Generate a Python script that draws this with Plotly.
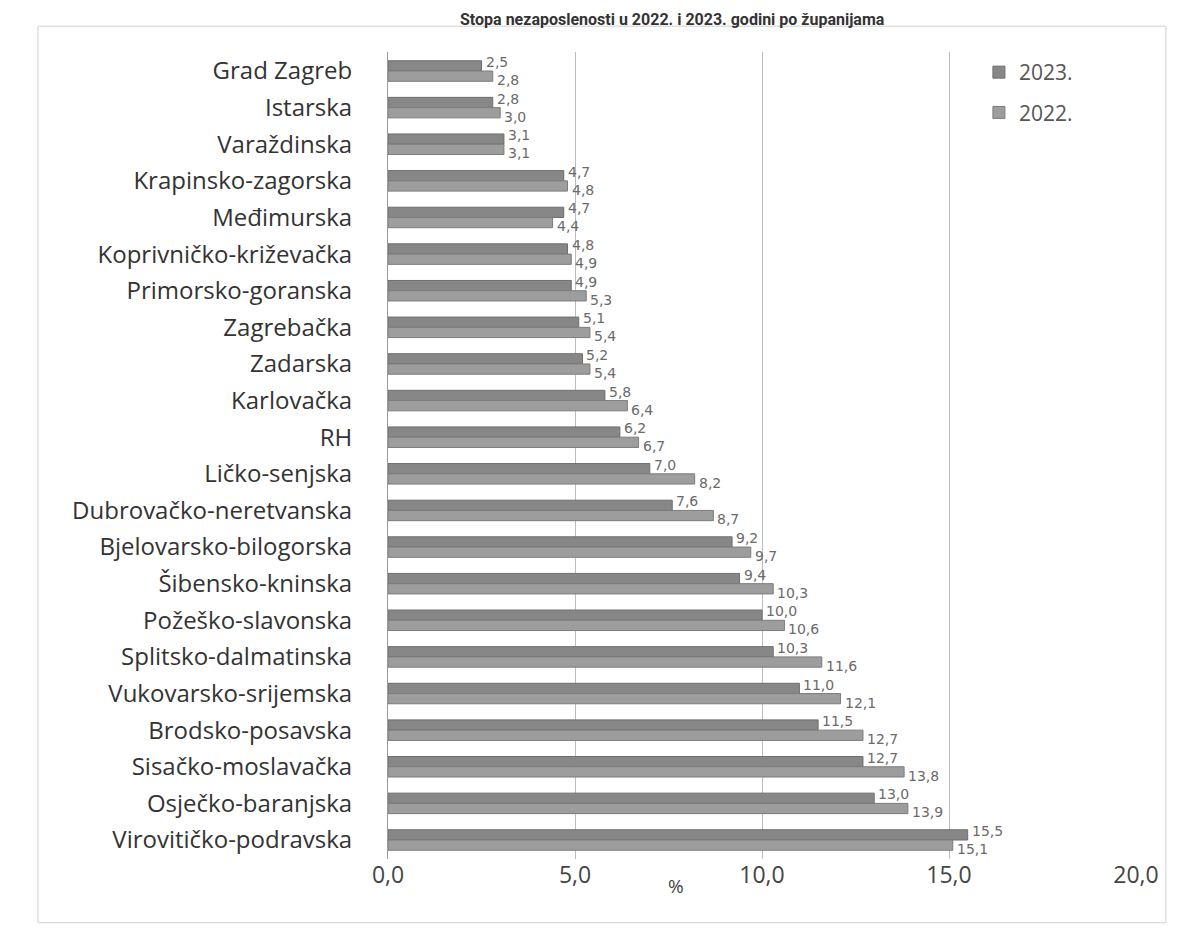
import plotly.graph_objects as go

categories = ["Grad Zagreb", "Istarska", "Varaždinska", "Krapinsko-zagorska", "Međimurska",
              "Koprivničko-križevačka", "Primorsko-goranska", "Zagrebačka", "Zadarska", "Karlovačka",
              "RH", "Ličko-senjska", "Dubrovačko-neretvanska", "Bjelovarsko-bilogorska",
              "Šibensko-kninska", "Požeško-slavonska", "Splitsko-dalmatinska", "Vukovarsko-srijemska",
              "Brodsko-posavska", "Sisačko-moslavačka", "Osječko-baranjska", "Virovitičko-podravska"]
v2023 = [2.5, 2.8, 3.1, 4.7, 4.7, 4.8, 4.9, 5.1, 5.2, 5.8, 6.2, 7.0, 7.6, 9.2, 9.4, 10.0, 10.3,
         11.0, 11.5, 12.7, 13.0, 15.5]
v2022 = [2.8, 3.0, 3.1, 4.8, 4.4, 4.9, 5.3, 5.4, 5.4, 6.4, 6.7, 8.2, 8.7, 9.7, 10.3, 10.6, 11.6,
         12.1, 12.7, 13.8, 13.9, 15.1]
x_ticks = [0, 5, 10, 15, 20]
x_tick_labels = ["0,0", "5,0", "10,0", "15,0", "20,0"]


def fmt(v):
    return f"{v:.1f}".replace(".", ",")


label_font = dict(family="DejaVu Sans", size=14, color="#6a6a6a")

fig = go.Figure()
fig.add_trace(go.Bar(
    y=categories, x=v2023, orientation="h", name="2023.", legendgroup="a",
    marker=dict(color="#878787", line=dict(color="#6e6e6e", width=1)),
))
fig.add_trace(go.Bar(
    y=categories, x=v2022, orientation="h", name="2022.", legendgroup="b",
    marker=dict(color="#9d9d9d", line=dict(color="#7c7c7c", width=1)),
))

# value labels: 2023 above-right, 2022 below-right of the bar ends
for cat, a, b in zip(categories, v2023, v2022):
    fig.add_annotation(x=a, y=cat, xref="x", yref="y", text=fmt(a), showarrow=False,
                       xanchor="left", yanchor="middle", xshift=2, yshift=9, font=label_font)
    fig.add_annotation(x=b, y=cat, xref="x", yref="y", text=fmt(b), showarrow=False,
                       xanchor="left", yanchor="middle", xshift=2, yshift=-9, font=label_font)

fig.update_layout(
    width=1187, height=939,
    paper_bgcolor="white", plot_bgcolor="white",
    margin=dict(l=380, r=59, t=44, b=88),
    barmode="group", bargap=0.44, bargroupgap=0.0,
    showlegend=True,
    legend=dict(x=0.79, y=1.0, xanchor="left", yanchor="top", traceorder="grouped",
                font=dict(family="Open Sans", size=21, color="#555555"),
                bgcolor="rgba(0,0,0,0)", tracegroupgap=10, itemwidth=30),
    font=dict(family="Open Sans", color="#333333"),
)
fig.update_xaxes(
    range=[0, 20], tickvals=x_ticks, ticktext=x_tick_labels,
    showgrid=True, gridcolor="#bdbdbd", gridwidth=1,
    zeroline=False, showline=False,
    tickfont=dict(family="Open Sans", size=23, color="#444444"),
    ticks="", ticklabelstandoff=0,
)
fig.update_yaxes(
    autorange="reversed", showline=True, linecolor="#9a9a9a", linewidth=1,
    tickfont=dict(family="Open Sans", size=24, color="#333333"),
    ticks="", ticklabelstandoff=30,
)

# axis title "%"
fig.add_annotation(x=0.385, y=0, xref="paper", yref="paper", yshift=-27, text="%",
                   showarrow=False, font=dict(family="Open Sans", size=19, color="#444444"),
                   yanchor="middle")
# title
fig.add_annotation(x=0.38, y=1.0, xref="paper", yref="paper", yshift=33,
                   text="<b>Stopa nezaposlenosti u 2022. i 2023. godini po županijama</b>",
                   showarrow=False, font=dict(family="Roboto", size=16, color="#333333"),
                   yanchor="middle")
# faint outer frame
fig.add_shape(type="rect", xref="paper", yref="paper", x0=-0.468, x1=1.04, y0=-0.079, y1=1.032,
              line=dict(color="#d0d0d0", width=1))

fig.write_html("out.html")
